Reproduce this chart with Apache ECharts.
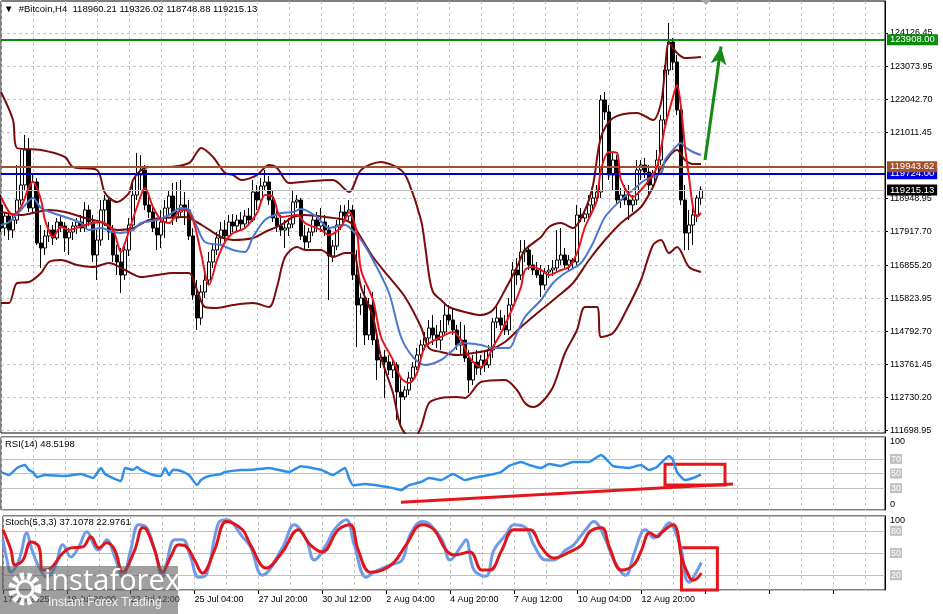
<!DOCTYPE html>
<html><head><meta charset="utf-8">
<script src="https://cdn.jsdelivr.net/npm/echarts@6/dist/echarts.min.js"></script>
<style>html,body{margin:0;padding:0;background:#fff}#c{width:943px;height:614px}</style>
</head><body><div id="c"></div>
<script>
const symbolName = '#Bitcoin,H4';
const timeLabels = ['17 Jul 2025','19 Jul 20:00','22 Jul 12:00','25 Jul 04:00','27 Jul 20:00','30 Jul 12:00','2 Aug 04:00','4 Aug 20:00','7 Aug 12:00','10 Aug 04:00','12 Aug 20:00'];
const priceTicks = [111698.95,112730.20,113761.45,114792.70,115823.95,116855.20,117917.70,118948.95,121011.45,122042.70,123073.95,124126.45];
const levelGreen = 123908.00, levelBrown = 119943.62, levelBlue = 119724.00;
const rsiLevels = [30,50,70];
const stochLevels = [20,50,80];

const candleOpen = [118746,118027,118402,117965,118277,118902,119371,120465,118652,119465,
117558,117402,117777,117965,117715,118215,118090,117715,117902,118090,
118215,118027,118590,118215,117183,117652,118590,118902,117902,117183,
116965,116558,117340,118121,119058,119683,119840,118746,118527,118027,
117808,118215,118652,119027,118340,118527,118746,118590,117777,115933,
115215,116027,116402,116965,117340,117715,117965,117777,118215,118090,
118277,118152,118402,118277,119152,118902,119340,119465,118902,118340,
118090,117965,118027,118152,118840,118902,117777,117590,117902,118277,
118090,118215,117965,117152,117465,118121,118527,118402,118590,116558,
115621,115840,114683,115621,114527,113902,113996,113840,113590,113746,
112902,112746,112965,113340,113683,114058,114371,114590,114902,114683,
114527,114777,115308,115152,114840,114371,114527,113965,113277,113840,
113652,113902,113746,114215,115090,115215,114996,114840,115621,116715,
116558,117277,117340,116871,116715,116558,116246,116652,116715,116777,
117027,117183,116871,117027,116965,118433,118340,118465,118746,118965,
119152,122027,121652,119683,120152,118902,119058,118902,118746,118902,
119840,119996,119777,119371,119683,120152,121402,122965,123840,123215,
121715,118902,117871,118121,118433,118960.21];
const candleHigh = [119058,118527,118590,118433,119996,120465,120933,120840,119683,119590,
118121,117965,118215,118121,118340,118433,118215,118027,118215,118340,
118433,118840,118746,118433,117965,118902,119058,119027,118121,117496,
117402,117496,118340,119527,120371,120308,119996,119058,118746,118340,
118590,118902,119215,119433,119465,119527,119152,118902,118027,116402,
116246,116652,117277,117496,117902,118215,118277,118433,118465,118433,
118527,118590,118652,119527,119371,119590,119840,119652,119215,118746,
118433,118277,118340,119215,119058,118965,118121,118027,118433,118527,
118652,118433,118121,117652,118277,118746,118746,118902,118746,117340,
115996,116246,115840,116027,114683,114152,114215,114058,113902,113840,
113340,113090,113527,113840,114277,114527,114777,115152,115308,114996,
115152,115715,115621,115527,114996,115090,114996,114215,114058,114215,
114058,114152,114371,115215,115621,115465,115308,115840,116965,117090,
117652,117652,117496,117183,116965,116871,116777,116871,117027,117965,
118027,117402,117183,117090,118746,118652,118590,119058,119215,119371,
122183,122277,121871,120402,120308,119277,119371,119371,119058,120152,
120152,120215,119996,119840,120465,121558,123121,124433,123965,123433,
122027,119371,118590,118746,119058,119326.02];
const candleLow = [117902,117777,117652,117715,118152,118746,119215,118527,118527,117496,
116777,117183,117590,117496,117652,117902,117277,117183,117652,117840,
117902,117902,118090,116965,116402,117465,118090,117652,116965,116558,
115996,116402,117152,117965,118902,119215,118590,118340,117902,117340,
117402,117715,118433,118121,118215,118340,118121,117652,115777,114840,
114996,115840,116246,116777,117183,117496,117590,117652,117902,117902,
117965,118027,118121,118215,118590,118746,119215,118746,118215,117902,
117777,117402,117777,118027,118652,117652,117340,117402,117777,117902,
117902,117777,115777,116965,117340,117965,118215,118277,116402,114308,
115308,114371,114527,114371,113277,113652,112715,113433,113340,112027,
111871,112652,112808,113215,113590,113840,114215,114371,114371,114277,
114215,114652,114996,114683,114215,114058,113840,112871,113121,113433,
113433,113527,113652,113965,114902,114840,114683,114683,115465,116246,
116402,116965,116715,116558,116465,115871,116090,116465,116527,116652,
116871,116715,116652,116777,116871,118215,118215,118340,118590,118808,
118965,121402,119527,119215,118746,118652,118746,118277,118527,118746,
119527,119590,119058,119215,119527,119996,121246,122808,122965,121558,
118746,117340,117340,117496,118215,118748.88];
const candleClose = [118027,118402,117965,118277,118902,119371,120465,118652,119465,117558,
117402,117777,117965,117715,118215,118090,117715,117902,118090,118215,
118027,118590,118215,117183,117652,118590,118902,117902,117183,116965,
116558,117340,118121,119058,119683,119840,118746,118527,118027,117808,
118215,118652,119027,118340,118527,118746,118590,117777,115933,115215,
116027,116402,116965,117340,117715,117965,117777,118215,118090,118277,
118152,118402,118277,119152,118902,119340,119465,118902,118340,118090,
117965,118027,118152,118840,118902,117777,117590,117902,118277,118090,
118215,117965,117152,117465,118121,118527,118402,118590,116558,115621,
115840,114683,115621,114527,113902,113996,113840,113590,113746,112902,
112746,112965,113340,113683,114058,114371,114590,114902,114683,114527,
114777,115308,115152,114840,114371,114527,113965,113277,113840,113652,
113902,113746,114215,115090,115215,114996,114840,115621,116715,116558,
117277,117340,116871,116715,116558,116246,116652,116715,116777,117027,
117183,116871,117027,116965,118433,118340,118465,118746,118965,119152,
122027,121652,119683,120152,118902,119058,118902,118746,118902,119840,
119996,119777,119371,119683,120152,121402,122965,123840,123215,121715,
118902,117871,118121,118433,118965,119215.13];

const bbUpper = [[0,122277],[3,121402],[4,120527],[10,120465],[16,120246],[18,119933],[24,119840],[26,119121],[29,118840],[32,119121],[33,119527],[35,119840],[37,119933],[41,119933],[47,120058],[49,120402],[50,120527],[53,120246],[56,119746],[58,119683],[60,119527],[64,119683],[67,119996],[69,119902],[72,119433],[75,119465],[83,119527],[87,119152],[90,119840],[95,120090],[100,119840],[102,119433],[105,118277],[106,117496],[107,116558],[108,116027],[110,115777],[112,115558],[116,115402],[120,115308],[123,115465],[126,116090],[129,116808],[131,117340],[135,117746],[137,118058],[140,118183],[143,118027],[146,118590],[148,119371],[150,120871],[153,121465],[159,121621],[163,121402],[165,121933],[166,122965],[167,123808],[169,123496],[171,123340],[175,123371]];
const bbMiddle = [[0,118527],[5,118433],[8,118496],[12,118590],[16,118527],[21,118340],[25,118215],[29,117965],[33,118027],[37,118277],[41,118340],[46,118371],[48,118277],[51,118058],[55,117746],[58,117652],[63,117715],[66,117902],[70,118121],[73,118371],[76,118433],[81,118371],[86,118277],[88,118121],[93,117121],[97,116496],[101,115871],[105,114933],[107,114277],[110,114152],[114,114058],[118,114121],[122,114215],[126,114465],[130,114933],[135,115465],[139,115871],[143,116308],[147,117027],[151,117652],[155,118183],[160,118683],[163,119308],[165,119902],[169,120465],[171,120152],[173,120027],[175,120027]];
const bbLower = [[0,115683],[2,115683],[4,116308],[7,116340],[10,116621],[12,116965],[15,117027],[19,116871],[23,116808],[27,116933],[31,116715],[35,116496],[39,116558],[43,116621],[47,116621],[49,116090],[51,115558],[54,115527],[58,115621],[63,115683],[67,115558],[69,116183],[71,117121],[74,117433],[76,117340],[80,117340],[83,117121],[86,117246],[88,117246],[90,116183],[93,115246],[95,113996],[98,112871],[100,111808],[103,111402],[105,111808],[107,112558],[110,112715],[114,112746],[116,112715],[120,113215],[126,113277],[129,112965],[131,112558],[133,112433],[135,112558],[138,113058],[141,114121],[144,114840],[146,115558],[149,115558],[150,114621],[153,114746],[156,115371],[160,116402],[163,117496],[165,117652],[167,117246],[169,117433],[172,116808],[175,116652]];
const maFast = [[0,118996],[3,118433],[5,118683],[7,119308],[8,119465],[10,118902],[11,118277],[13,117746],[15,118058],[17,117965],[21,118121],[25,118215],[28,117965],[30,117277],[31,117558],[34,118683],[36,119277],[38,118683],[40,118277],[42,118183],[45,118590],[46,118590],[48,118277],[50,117246],[52,116246],[54,117027],[56,117590],[58,117871],[61,118027],[64,118496],[66,119058],[68,118996],[70,118371],[74,118433],[76,118183],[80,117965],[82,117808],[85,118058],[87,118527],[89,117871],[90,116715],[93,115777],[95,114621],[98,113902],[100,113340],[102,113183],[104,113496],[106,114308],[110,114621],[113,114777],[115,114527],[117,113996],[120,113683],[121,113808],[123,114308],[125,114746],[128,115558],[130,116183],[131,116715],[133,116808],[135,116715],[137,116558],[140,116715],[142,116808],[144,117246],[146,118058],[148,118590],[149,118902],[150,119840],[152,120402],[154,120371],[155,119527],[158,118996],[160,119215],[162,119527],[164,119933],[166,121183],[168,122121],[169,122496],[170,121808],[171,120558],[172,119621],[173,118683],[174,118371],[175,118496]];
const maSlow = [[0,118121],[2,118215],[5,118590],[8,118965],[10,118652],[13,118496],[16,118371],[20,118183],[22,117965],[25,118027],[28,117902],[30,117871],[33,117965],[35,118183],[39,118277],[42,118433],[45,118652],[47,118590],[49,118058],[51,117590],[55,117496],[58,117340],[61,117277],[63,117746],[66,118277],[70,118496],[73,118527],[75,118621],[79,118371],[82,118027],[86,118121],[87,118058],[90,117652],[93,117027],[97,115996],[100,114621],[103,113996],[106,113746],[110,113902],[113,114215],[115,114433],[120,114371],[123,114277],[127,114277],[129,114746],[131,115246],[135,115777],[138,116308],[141,116621],[145,116933],[148,117558],[151,118371],[155,118902],[158,119215],[161,119527],[165,119746],[166,120152],[168,120465],[170,120683],[171,120558],[173,120402],[175,120308]];
const rsi = [[0,52],[2,48],[4,57.6],[6,61.7],[7,54.8],[8,52],[9,45],[11,48],[16,46.5],[20,49.3],[23,43.8],[25,57.6],[26,49.3],[28,43.8],[30,39.7],[31,57.6],[33,55],[34,59],[35,55],[38,48],[40,46.5],[41,57.6],[42,48],[43,55],[45,53.4],[47,48],[49,34.1],[50,41],[52,46.5],[55,49.3],[56,52],[60,54.8],[63,55],[67,57.6],[72,52],[75,60],[80,55],[83,48],[86,57.6],[87,43.8],[88,34],[91,35.5],[95,32.8],[98,30],[100,27.2],[102,34],[105,38.3],[107,43.8],[110,41],[113,49.3],[116,41],[118,43.8],[122,48],[125,52],[127,60.3],[130,65.9],[132,61.7],[135,57.6],[137,63.1],[140,60.3],[143,65.9],[147,65.9],[150,75.5],[151,71.4],[153,60.3],[157,57.6],[160,61.7],[162,54.8],[164,59],[167,74],[168,68.6],[169,52],[171,41],[173,43.8],[175,48.5198]];
const stochK = [[0,67.8],[1,40.5],[2,24.1],[4,40.5],[6,77.4],[7,58.3],[9,31],[11,17.3],[13,31],[15,61],[17,44.6],[19,58.3],[21,78.7],[23,58.3],[24,54],[26,67.8],[28,44.6],[30,17.3],[32,54],[34,88.3],[36,84.2],[38,54],[40,17.3],[41,36.4],[43,67.8],[45,67.8],[47,44.6],[49,17.3],[51,21.4],[54,91],[56,95.1],[60,71.9],[62,58.3],[65,20],[70,56.9],[73,88.3],[76,67.8],[78,40.5],[81,61],[83,81.4],[86,95.1],[88,61],[91,17.3],[93,24.1],[97,33.7],[100,40.5],[102,74.6],[105,92.4],[107,88.3],[110,67.8],[112,40.5],[115,61],[116,67.8],[118,26.9],[121,18.7],[123,54],[126,74.6],[128,88.3],[131,84.2],[133,61],[136,40.5],[138,40.5],[141,54],[143,61],[146,81.4],[148,92.4],[151,67.8],[153,40.5],[156,20],[158,47.3],[160,77.4],[161,81.4],[163,70.5],[165,78.7],[167,91],[168,84.2],[170,54],[171,17.3],[172,10.5],[173,17.3],[175,37.1078]];
const stochD = [[0,81.4],[2,54],[3,33.7],[5,40.5],[7,65],[9,58.3],[10,26.9],[12,29.6],[15,50],[17,56.9],[20,58.3],[22,71.9],[24,56.9],[26,63.7],[28,54],[30,24.1],[33,54],[35,84.2],[36,81.4],[38,54],[40,24.1],[42,44.6],[44,61],[46,58.3],[48,40.5],[50,22.8],[53,54],[56,92.4],[60,81.4],[62,61],[66,29.6],[70,51.4],[74,81.4],[77,61],[80,51.4],[84,81.4],[87,88.3],[89,54],[92,24.1],[95,26.9],[98,37.5],[101,61],[105,88.3],[108,81.4],[111,54],[113,47.3],[117,51.4],[120,26.9],[122,26.9],[125,54],[128,81.4],[132,81.4],[135,56.9],[138,43.1],[142,51.4],[145,61],[147,78.7],[150,84.2],[152,56.9],[155,26.9],[158,33.7],[160,54],[162,77.4],[164,71.9],[165,77.4],[168,88.3],[169,78.7],[170,44.6],[172,17.3],[173,13.3],[175,22.9761]];

// annotations (data coordinates)
const arrowFrom = [176, 120150], arrowTo = [180, 123700];
const rsiTrendFrom = [100, 10.7], rsiTrendTo = [183, 35.5];
const rsiBox = [[166, 62.7], [181, 34.1]];
const stochBox = [[170, 57], [179, -4.5]];

const nSlots = 222;
const slots = Array.from({length: nSlots}, (_, i) => String(i));
const FONT = '"Liberation Sans", Arial, sans-serif';
const last = candleClose.length - 1;
const lastBar = [candleOpen[last], candleHigh[last], candleLow[last], candleClose[last]];
const candles = candleOpen.map((o, i) => [o, candleClose[i], candleLow[i], candleHigh[i]]);

const chart = echarts.init(document.getElementById('c'));
const grids = [
  {left: 1, top: 1, width: 884, height: 432},
  {left: 1, top: 437, width: 884, height: 73},
  {left: 1, top: 516, width: 884, height: 74}
].map(g => Object.assign(g, {show: true, borderColor: '#000', borderWidth: 1, backgroundColor: '#fff'}));

const xAxes = [0, 1, 2].map(g => ({
  type: 'category', gridIndex: g, data: slots, boundaryGap: false,
  axisLine: {show: false},
  axisTick: {show: g === 2, interval: 15, length: 4, lineStyle: {color: '#000'}},
  axisLabel: {show: g === 2, interval: 15, align: 'left', margin: 5, color: '#000', fontSize: 9, fontFamily: FONT,
    formatter: (v, i) => (i % 16 === 0 && timeLabels[i / 16]) ? timeLabels[i / 16] : ''},
  splitLine: {show: true, interval: 7, lineStyle: {color: '#c4c4c4', type: [3, 3], width: 1}}
}));

const lvlRich = {
  lv: {backgroundColor: '#c0c0c0', color: '#fff', fontSize: 9, fontFamily: FONT, padding: [1, 1, 0, 1]},
  top: {color: '#000', fontSize: 9, fontFamily: FONT, padding: [10, 0, 0, 0]},
  bot: {color: '#000', fontSize: 9, fontFamily: FONT, padding: [0, 0, 11, 0]}
};
function oscAxis(g, levels) {
  const vals = [0].concat(levels, [100]);
  return {
    type: 'value', gridIndex: g, position: 'right', min: 0, max: 100,
    axisLine: {show: true, lineStyle: {color: '#000'}},
    axisTick: {show: false, customValues: vals},
    axisLabel: {customValues: vals, margin: 5, color: '#000', fontSize: 9, fontFamily: FONT, rich: lvlRich,
      formatter: v => v === 100 ? '{top|100}' : v === 0 ? '{bot|0}' : '{lv|' + v + '}'},
    splitLine: {show: true, lineStyle: {color: '#c0c0c0', width: 1}}
  };
}
const yAxes = [
  {
    type: 'value', gridIndex: 0, position: 'right', min: 111620.8, max: 125120.8,
    axisLine: {show: true, lineStyle: {color: '#000'}},
    axisTick: {show: true, length: 3, customValues: priceTicks, lineStyle: {color: '#000'}},
    axisLabel: {customValues: priceTicks, margin: 5, color: '#000', fontSize: 9, fontFamily: FONT, formatter: v => v.toFixed(2)},
    splitLine: {show: true, lineStyle: {color: '#c4c4c4', type: [3, 3], width: 1}}
  },
  oscAxis(1, rsiLevels),
  oscAxis(2, stochLevels)
];

function levelLine(value, color, width, bg) {
  return {yAxis: value, lineStyle: {color, width, type: 'solid'},
    label: {show: true, position: 'end', distance: 2, formatter: p => Number(p.value).toFixed(2),
      backgroundColor: bg, color: '#fff', fontSize: 9.5, fontFamily: FONT, padding: [1, 3, 0, 3]}};
}
function line(data, color, width, g, smooth, z) {
  return {type: 'line', xAxisIndex: g, yAxisIndex: g, data, symbol: 'none', showSymbol: false, smooth,
    lineStyle: {color, width}, itemStyle: {color}, silent: true, z: z || 3, animation: false};
}

const maroon = '#7a0c0c';
const series = [
  {
    type: 'candlestick', xAxisIndex: 0, yAxisIndex: 0, data: candles, barWidth: 3, silent: true, z: 2,
    itemStyle: {color: '#fff', color0: '#000', borderColor: '#000', borderColor0: '#000', borderWidth: 1},
    markLine: {
      silent: true, symbol: ['none', 'none'], animation: false,
      data: [
        levelLine(levelGreen, '#0a8a0a', 2, '#0a8a0a'),
        levelLine(levelBlue, '#0000c8', 2, '#0000e0'),
        levelLine(levelBrown, '#a0522d', 2, '#a0522d'),
        levelLine(lastBar[3], '#c0c0c0', 1, '#000'),
        [
          {coord: arrowFrom, symbol: 'none', lineStyle: {color: '#138a13', width: 3, type: 'solid'}, label: {show: false}},
          {coord: arrowTo, symbol: 'arrow', symbolSize: [12, 18]}
        ]
      ]
    }
  },
  line(bbUpper, maroon, 2, 0, 0.3),
  line(bbMiddle, maroon, 2, 0, 0.3),
  line(bbLower, maroon, 2, 0, 0.3),
  line(maSlow, '#4a78d0', 2, 0, 0.3, 4),
  line(maFast, '#e8141b', 2, 0, 0.3, 5),
  Object.assign(line(rsi, '#2f8fe8', 2.5, 1, 0.15), {
    markLine: {silent: true, symbol: ['none', 'none'], animation: false, label: {show: false},
      data: [[{coord: rsiTrendFrom, lineStyle: {color: '#e8141b', width: 3, type: 'solid'}}, {coord: rsiTrendTo}]]},
    markArea: {silent: true, animation: false, itemStyle: {color: 'rgba(0,0,0,0)', borderColor: '#e8141b', borderWidth: 3},
      data: [[{coord: rsiBox[0]}, {coord: rsiBox[1]}]]}
  }),
  line(stochK, '#6f9be6', 3, 2, 0.4),
  Object.assign(line(stochD, '#e0141b', 3, 2, 0.4), {
    clip: false,
    markArea: {silent: true, animation: false, itemStyle: {color: 'rgba(0,0,0,0)', borderColor: '#e8141b', borderWidth: 3},
      data: [[{coord: stochBox[0]}, {coord: stochBox[1]}]]}
  })
];

const tStyle = {fontSize: 9.5, fontWeight: 'normal', color: '#000', fontFamily: FONT};
chart.setOption({
  animation: false,
  backgroundColor: '#fff',
  title: [
    {text: '\u25BC  ' + symbolName + '  ' + lastBar.map(v => v.toFixed(2)).join(' '), left: 4, top: 4, padding: 0, textStyle: tStyle},
    {text: 'RSI(14) ' + rsi[rsi.length - 1][1].toFixed(4), left: 5, top: 439, padding: 0, textStyle: tStyle},
    {text: 'Stoch(5,3,3) ' + stochK[stochK.length - 1][1].toFixed(4) + ' ' + stochD[stochD.length - 1][1].toFixed(4), left: 5, top: 517, padding: 0, textStyle: tStyle}
  ],
  grid: grids,
  xAxis: xAxes,
  yAxis: yAxes,
  series,
  graphic: [
    {type: 'polygon', shape: {points: [[701, 0], [711, 0], [706, 5]]}, style: {fill: '#a8a8a8'}, z: 50},
    {type: 'rect', shape: {x: 0, y: 566, width: 178, height: 48}, style: {fill: 'rgba(95,95,95,0.6)'}, z: 100, silent: true},
    {type: 'circle', shape: {cx: 25, cy: 589, r: 13}, style: {fill: 'none', stroke: '#fff', lineWidth: 7, lineDash: [4, 3]}, z: 101, silent: true},
    {type: 'circle', shape: {cx: 25, cy: 589, r: 8}, style: {fill: 'none', stroke: '#fff', lineWidth: 3}, z: 101, silent: true},
    {type: 'text', style: {x: 44, y: 567, text: 'instaforex', fill: '#fff', font: '29px "Open Sans", sans-serif'}, z: 101, silent: true},
    {type: 'text', style: {x: 48, y: 597, text: 'Instant Forex Trading', fill: '#f0f0f0', font: '12px "Liberation Sans", sans-serif'}, z: 101, silent: true}
  ]
});
</script></body></html>
